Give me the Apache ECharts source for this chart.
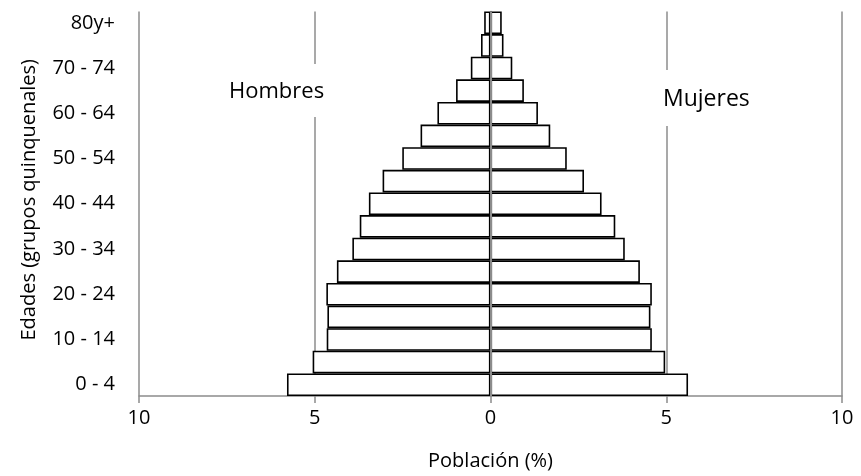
<!DOCTYPE html>
<html>
<head>
<meta charset="utf-8">
<script src="https://cdn.jsdelivr.net/npm/echarts@6/dist/echarts.min.js"></script>
<style>
  html, body { margin: 0; padding: 0; background: #fff; }
  #chart { width: 861px; height: 476px; }
</style>
</head>
<body>
<div id="chart"></div>
<script>
// grupos de edad, de abajo hacia arriba
const ageGroups = ['0 - 4', '5 - 9', '10 - 14', '15 - 19', '20 - 24', '25 - 29', '30 - 34', '35 - 39',
  '40 - 44', '45 - 49', '50 - 54', '55 - 59', '60 - 64', '65 - 69', '70 - 74', '75 - 79', '80y+']
const hombres = [5.79, 5.06, 4.66, 4.64, 4.67, 4.37, 3.93, 3.72, 3.46, 3.07, 2.51, 1.99, 1.51, 0.98, 0.56, 0.27, 0.18]
const mujeres = [5.62, 4.97, 4.59, 4.55, 4.59, 4.25, 3.82, 3.55, 3.16, 2.66, 2.17, 1.70, 1.35, 0.95, 0.62, 0.37, 0.32]
const xTicks = [-10, -5, 0, 5, 10]

const font = 'Open Sans'
const gridGray = '#8c8c8c'

const chart = echarts.init(document.getElementById('chart'))

const barStyle = {
  color: '#ffffff',
  borderColor: '#000000',
  borderWidth: 1.6
}

chart.setOption({
  animation: false,
  textStyle: { fontFamily: font },
  grid: { left: 139, right: 19, top: 11.5, bottom: 79.5 },
  xAxis: {
    type: 'value',
    min: xTicks[0],
    max: xTicks[xTicks.length - 1],
    interval: 5,
    name: 'Población (%)',
    nameLocation: 'middle',
    nameGap: 55,
    nameTextStyle: { fontFamily: font, fontSize: 20, color: '#000' },
    axisLine: { show: true, lineStyle: { color: gridGray, width: 1.5 } },
    axisTick: { show: true, length: 7, lineStyle: { color: gridGray, width: 1.5 } },
    axisLabel: {
      margin: 12,
      fontFamily: font,
      fontSize: 20,
      color: '#000',
      formatter: v => String(Math.abs(v))
    },
    splitLine: { show: true, lineStyle: { color: gridGray, width: 1.5 } }
  },
  yAxis: {
    type: 'category',
    data: ageGroups,
    name: 'Edades (grupos quinquenales)',
    nameLocation: 'middle',
    nameGap: 100,
    nameTextStyle: { fontFamily: font, fontSize: 20, color: '#000', padding: [0, 0, 0, 8] },
    axisLine: { show: true, lineStyle: { color: gridGray, width: 1.5 } },
    axisTick: { show: false },
    axisLabel: {
      interval: 1,
      margin: 24,
      fontFamily: font,
      fontSize: 20,
      color: '#000'
    }
  },
  graphic: [
    {
      type: 'text',
      left: 229,
      top: 81,
      z: 100,
      style: {
        text: 'Hombres',
        font: '22px "Open Sans"',
        fill: '#000'
      }
    },
    {
      type: 'rect',
      shape: { x: 300, y: 64, width: 30, height: 53 },
      style: { fill: '#fff' },
      z: 90
    },
    {
      type: 'text',
      left: 663,
      top: 88,
      z: 100,
      style: {
        text: 'Mujeres',
        font: '23px "Open Sans"',
        fill: '#000'
      }
    },
    {
      type: 'rect',
      shape: { x: 655, y: 70, width: 25, height: 56 },
      style: { fill: '#fff' },
      z: 90
    }
  ],
  series: [
    {
      name: 'Hombres',
      type: 'bar',
      stack: 'total',
      barCategoryGap: 0,
      data: hombres.map(v => -v),
      itemStyle: barStyle,
      markLine: {
        silent: true,
        symbol: 'none',
        label: { show: false },
        lineStyle: { color: gridGray, width: 2, type: 'solid' },
        data: [{ xAxis: 0 }],
        z: 10
      }
    },
    {
      name: 'Mujeres',
      type: 'bar',
      stack: 'total',
      barCategoryGap: 0,
      data: mujeres,
      itemStyle: barStyle
    }
  ]
})
</script>
</body>
</html>
